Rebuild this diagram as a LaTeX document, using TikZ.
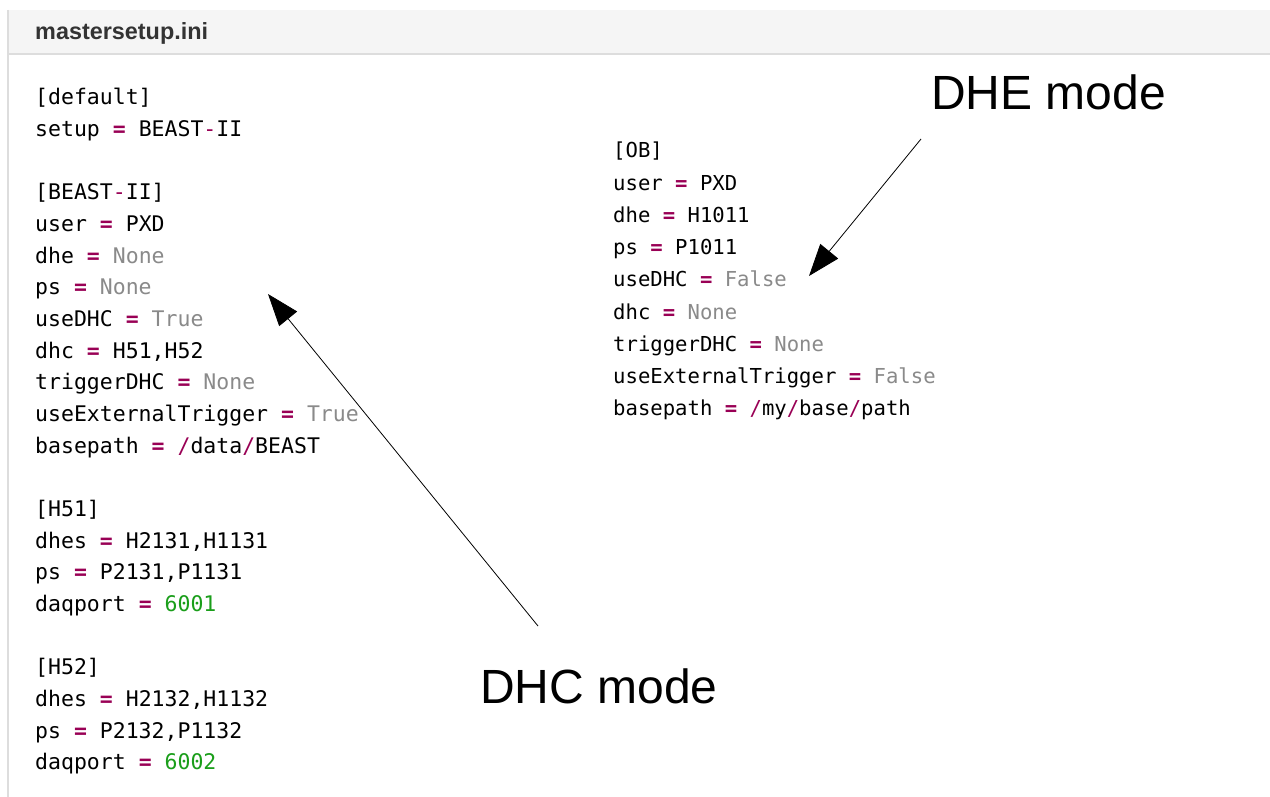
\documentclass[tikz,border=0pt]{standalone}
\usepackage{fontspec}
\setmainfont{Liberation Sans}
\setmonofont{DejaVu Sans Mono}
\usetikzlibrary{arrows.meta}
\definecolor{opc}{HTML}{990055}
\definecolor{valc}{HTML}{8A8A8A}
\definecolor{numc}{HTML}{1A9E1A}
\definecolor{hdrbg}{HTML}{F5F5F5}
\definecolor{bordc}{HTML}{DDDDDD}
\definecolor{hdrtxt}{HTML}{333333}
\newcommand\Eq{\textcolor{opc}{\bfseries=}}
\newcommand\Op[1]{\textcolor{opc}{#1}}
\newcommand\Val[1]{\textcolor{valc}{#1}}
\newcommand\Num[1]{\textcolor{numc}{#1}}
\begin{document}
\begin{tikzpicture}[x=1pt,y=-1pt,
  codeL/.style={anchor=base west, inner sep=0pt, font=\fontsize{21.5}{25}\ttfamily, text=black},
  codeR/.style={anchor=base west, inner sep=0pt, font=\fontsize{20.6}{25}\ttfamily, text=black},
  modelabel/.style={anchor=base west, inner sep=0pt, font=\fontsize{48}{56}\selectfont, text=black},
  pointer/.style={line width=0.8pt, draw=black, -{Triangle[length=32pt,width=23pt]}}]
\useasboundingbox (0,0) rectangle (1270,797);
\fill[white] (0,0) rectangle (1270,797);
% header
\fill[hdrbg] (8,10) rectangle (1270,54);
\draw[bordc, line width=1.2pt] (8,54) -- (1270,54);
\draw[bordc, line width=1.2pt] (8,10) -- (8,797);
\node[anchor=base west, inner sep=0pt, font=\fontsize{23.4}{27}\bfseries, text=hdrtxt] (title) at (35,40) {mastersetup.ini};
% left column
\node[codeL] (l0)  at (35,105)    {[default]};
\node[codeL] (l1)  at (35,136.65) {setup \Eq{} BEAST\Op{-}II};
\node[codeL] (l3)  at (35,199.95) {[BEAST\Op{-}II]};
\node[codeL] (l4)  at (35,231.6)  {user \Eq{} PXD};
\node[codeL] (l5)  at (35,263.25) {dhe \Eq{} \Val{None}};
\node[codeL] (l6)  at (35,294.9)  {ps \Eq{} \Val{None}};
\node[codeL] (l7)  at (35,326.55) {useDHC \Eq{} \Val{True}};
\node[codeL] (l8)  at (35,358.2)  {dhc \Eq{} H51,H52};
\node[codeL] (l9)  at (35,389.85) {triggerDHC \Eq{} \Val{None}};
\node[codeL] (l10) at (35,421.5)  {useExternalTrigger \Eq{} \Val{True}};
\node[codeL] (l11) at (35,453.15) {basepath \Eq{} \Op{/}data\Op{/}BEAST};
\node[codeL] (l13) at (35,516.45) {[H51]};
\node[codeL] (l14) at (35,548.1)  {dhes \Eq{} H2131,H1131};
\node[codeL] (l15) at (35,579.75) {ps \Eq{} P2131,P1131};
\node[codeL] (l16) at (35,611.4)  {daqport \Eq{} \Num{6001}};
\node[codeL] (l18) at (35,674.7)  {[H52]};
\node[codeL] (l19) at (35,706.35) {dhes \Eq{} H2132,H1132};
\node[codeL] (l20) at (35,738)    {ps \Eq{} P2132,P1132};
\node[codeL] (l21) at (35,769.65) {daqport \Eq{} \Num{6002}};
% right column
\node[codeR] (r0) at (613,158)   {[OB]};
\node[codeR] (r1) at (613,190.2) {user \Eq{} PXD};
\node[codeR] (r2) at (613,222.4) {dhe \Eq{} H1011};
\node[codeR] (r3) at (613,254.6) {ps \Eq{} P1011};
\node[codeR] (r4) at (613,286.8) {useDHC \Eq{} \Val{False}};
\node[codeR] (r5) at (613,319)   {dhc \Eq{} \Val{None}};
\node[codeR] (r6) at (613,351.2) {triggerDHC \Eq{} \Val{None}};
\node[codeR] (r7) at (613,383.4) {useExternalTrigger \Eq{} \Val{False}};
\node[codeR] (r8) at (613,415.6) {basepath \Eq{} \Op{/}my\Op{/}base\Op{/}path};
% labels
\node[modelabel] (dhe) at (931,110) {DHE mode};
\node[modelabel] (dhc) at (480,703) {DHC mode};
% arrows
\coordinate (dheTail) at (921,139);
\coordinate (dheTip)  at (809,276);
\coordinate (dhcTail) at (538,626);
\coordinate (dhcTip)  at (268,294);
\draw[pointer] (dheTail) -- (dheTip);
\draw[pointer] (dhcTail) -- (dhcTip);
\end{tikzpicture}
\end{document}
